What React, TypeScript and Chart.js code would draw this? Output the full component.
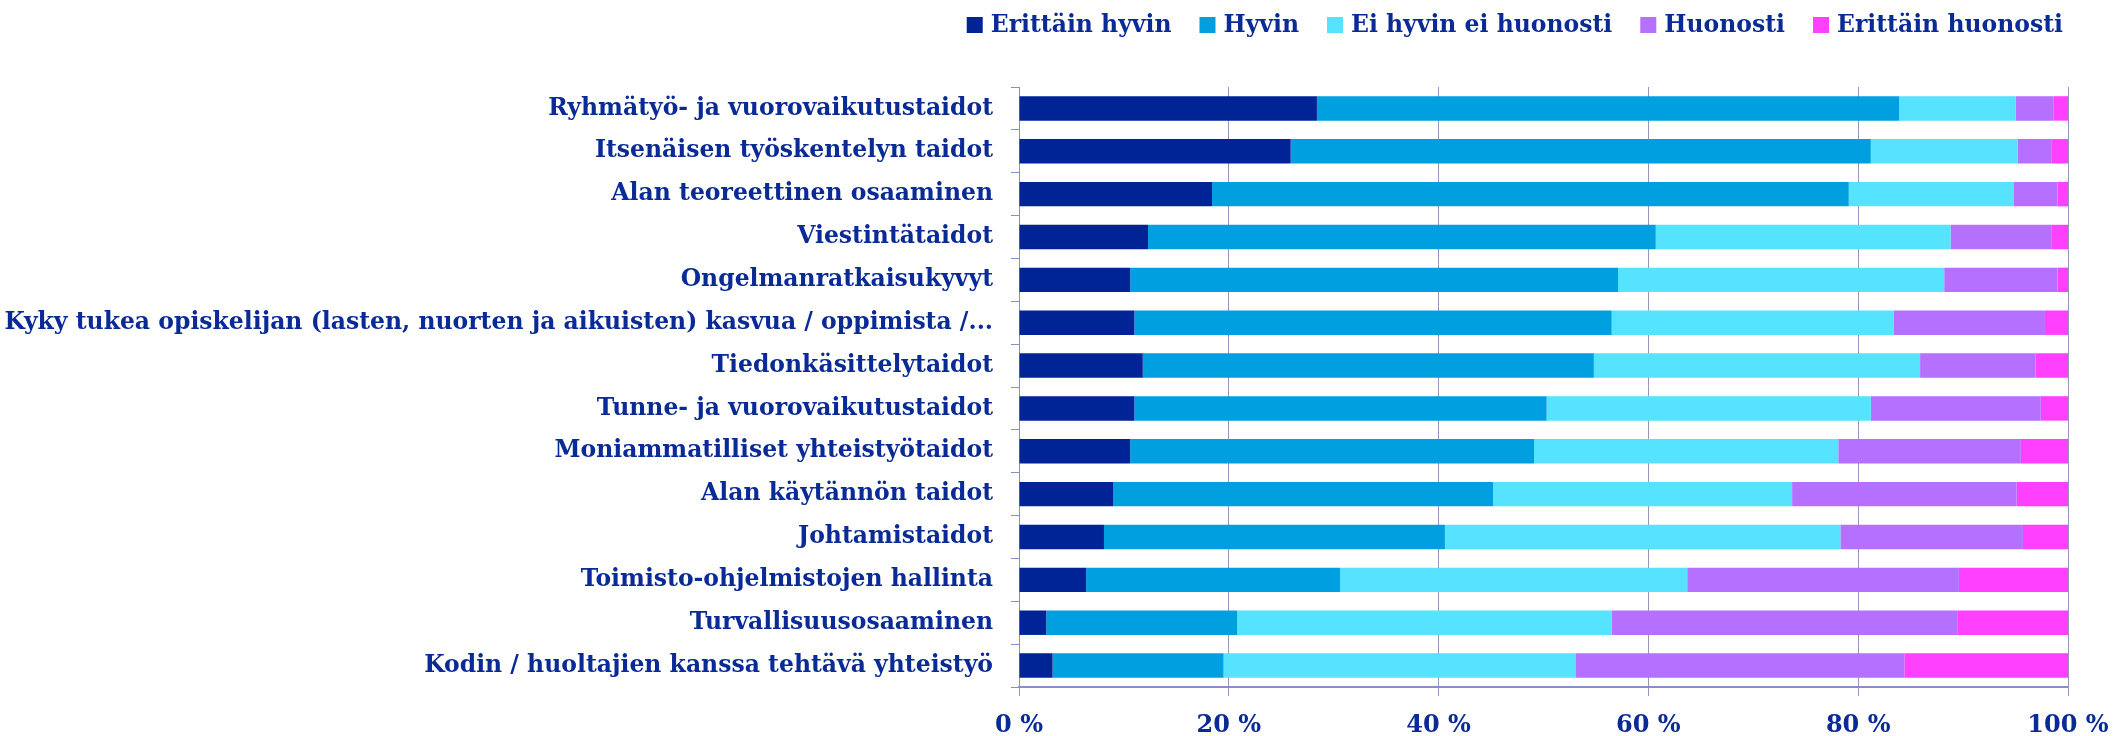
import React, { useEffect, useRef } from "react";
import { Chart, registerables } from "chart.js";

Chart.register(...registerables);

const categories = [
  "Ryhmätyö- ja vuorovaikutustaidot",
  "Itsenäisen työskentelyn taidot",
  "Alan teoreettinen osaaminen",
  "Viestintätaidot",
  "Ongelmanratkaisukyvyt",
  "Kyky tukea opiskelijan (lasten, nuorten ja aikuisten) kasvua / oppimista /...",
  "Tiedonkäsittelytaidot",
  "Tunne- ja vuorovaikutustaidot",
  "Moniammatilliset yhteistyötaidot",
  "Alan käytännön taidot",
  "Johtamistaidot",
  "Toimisto-ohjelmistojen hallinta",
  "Turvallisuusosaaminen",
  "Kodin / huoltajien kanssa tehtävä yhteistyö",
];

const seriesNames = [
  "Erittäin hyvin",
  "Hyvin",
  "Ei hyvin ei huonosti",
  "Huonosti",
  "Erittäin huonosti",
];

const erittainHyvin = [28.4, 25.9, 18.4, 12.3, 10.6, 11.0, 11.8, 11.0, 10.6, 9.0, 8.1, 6.4, 2.6, 3.2];
const hyvin = [55.5, 55.3, 60.7, 48.4, 46.5, 45.5, 43.0, 39.3, 38.5, 36.2, 32.5, 24.2, 18.2, 16.3];
const eiHyvinEiHuonosti = [11.1, 14.0, 15.7, 28.1, 31.1, 26.9, 31.1, 30.9, 29.0, 28.5, 37.7, 33.1, 35.7, 33.6];
const huonosti = [3.6, 3.2, 4.2, 9.6, 10.8, 14.4, 11.0, 16.2, 17.4, 21.4, 17.4, 25.9, 33.0, 31.3];
const erittainHuonosti = [1.4, 1.6, 1.0, 1.6, 1.0, 2.2, 3.1, 2.6, 4.5, 4.9, 4.3, 10.4, 10.5, 15.6];

const xTicks = [0, 20, 40, 60, 80, 100];

const colors = ["#002395", "#00A0E0", "#55E3FF", "#B570FF", "#FF40FF"];
const TEXT = "#0a2a96";
const FONT = "'DejaVu Serif', serif";
const GRID = "#9597b9";
const AXIS = "#8a8ec4";
const LABEL_SIZE = 23.5;

const legendPlugin = {
  id: "customLegend",
  afterDraw(chart: any) {
    const ctx = chart.ctx;
    ctx.save();
    ctx.font = `bold ${LABEL_SIZE}px ${FONT}`;
    const box = 16;
    const gapText = 8;
    const gapItem = 28;
    const items = chart.data.datasets.map((d: any) => ({ text: d.label, color: d.backgroundColor }));
    const widths = items.map((it: any) => box + gapText + ctx.measureText(it.text).width);
    const total = widths.reduce((a: number, b: number) => a + b, 0) + gapItem * (items.length - 1);
    let x = 2063 - total;
    const cy = 25;
    items.forEach((it: any, i: number) => {
      ctx.fillStyle = it.color;
      ctx.fillRect(x, cy - box / 2, box, box);
      ctx.fillStyle = TEXT;
      ctx.textBaseline = "middle";
      ctx.textAlign = "left";
      ctx.fillText(it.text, x + box + gapText, cy + 1);
      x += widths[i] + gapItem;
    });
    ctx.restore();
  },
};

export default function App() {
  const ref = useRef<HTMLCanvasElement>(null);
  useEffect(() => {
    const values = [erittainHyvin, hyvin, eiHyvinEiHuonosti, huonosti, erittainHuonosti];
    const chart = new Chart(ref.current!, {
      type: "bar",
      data: {
        labels: categories,
        datasets: seriesNames.map((name, i) => ({
          label: name,
          data: values[i],
          backgroundColor: colors[i],
          borderWidth: 0,
          barPercentage: 0.57,
          categoryPercentage: 1.0,
        })),
      },
      options: {
        indexAxis: "y",
        animation: false,
        responsive: false,
        maintainAspectRatio: false,
        devicePixelRatio: 1,
        layout: { padding: { top: 87, right: 45, left: 0, bottom: 0 } },
        plugins: {
          legend: { display: false },
          tooltip: { enabled: false },
        },
        scales: {
          x: {
            type: "linear",
            stacked: true,
            min: 0,
            max: 100,
            afterBuildTicks: (s: any) => {
              s.ticks = xTicks.map((v) => ({ value: v }));
            },
            afterFit: (s: any) => {
              s.height = 49;
              s.paddingLeft = 0;
              s.paddingRight = 0;
            },
            ticks: {
              callback: (v: any) => v + " %",
              color: TEXT,
              font: { family: FONT, size: 24, weight: "bold" },
              padding: 15,
              maxRotation: 0,
            },
            grid: { color: GRID, lineWidth: 1, tickLength: 9, drawTicks: true },
            border: { color: AXIS, width: 2 },
          },
          y: {
            type: "category",
            stacked: true,
            afterFit: (s: any) => {
              s.width = 1019;
            },
            ticks: {
              color: TEXT,
              font: { family: FONT, size: LABEL_SIZE, weight: "bold" },
              padding: 18,
              autoSkip: false,
            },
            grid: { drawOnChartArea: false, drawTicks: true, tickLength: 8, offset: true, color: AXIS },
            border: { color: AXIS, width: 1 },
          },
        },
      },
      plugins: [legendPlugin],
    });
    return () => chart.destroy();
  }, []);
  return (
    <div style={{ position: "absolute", left: 0, top: 0, width: 2113, height: 736 }}>
      <canvas ref={ref} width={2113} height={736} />
    </div>
  );
}
